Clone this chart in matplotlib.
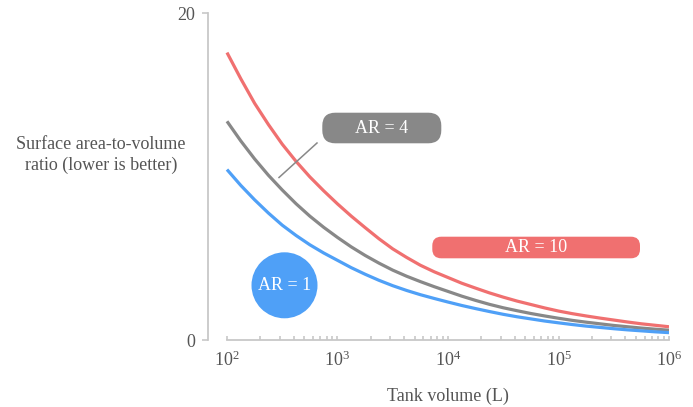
import matplotlib
matplotlib.use("Agg")
import matplotlib.pyplot as plt
from matplotlib.patches import FancyBboxPatch, Circle
from matplotlib.lines import Line2D
from matplotlib.transforms import Affine2D
from matplotlib.ticker import FixedLocator, LogFormatterMathtext, NullFormatter

# Tank volume (L), eighth-decade steps from 1e2 to 1e6
volume_exp = [2 + i / 8 for i in range(33)]
volume = [10 ** e for e in volume_exp]

# Surface area-to-volume ratio for each aspect ratio
sav_ar10 = [17.6, 16.0, 14.5, 13.2, 12.0, 10.95, 10.0, 9.15, 8.35, 7.6, 6.9,
            6.22, 5.6, 5.08, 4.6, 4.2, 3.85, 3.5, 3.2, 2.91, 2.65, 2.41, 2.2,
            1.99, 1.8, 1.64, 1.5, 1.37, 1.25, 1.13, 1.02, 0.93, 0.84]
sav_ar4 = [13.4, 12.2, 11.1, 10.1, 9.2, 8.36, 7.6, 6.92, 6.3, 5.72, 5.2,
           4.73, 4.3, 3.93, 3.6, 3.29, 3.0, 2.71, 2.45, 2.21, 2.0, 1.82, 1.65,
           1.5, 1.36, 1.23, 1.12, 1.02, 0.92, 0.84, 0.76, 0.69, 0.63]
sav_ar1 = [10.45, 9.48, 8.6, 7.79, 7.05, 6.42, 5.85, 5.35, 4.9, 4.45, 4.05,
           3.68, 3.35, 3.06, 2.8, 2.57, 2.35, 2.14, 1.95, 1.77, 1.6, 1.45, 1.32,
           1.19, 1.08, 0.975, 0.88, 0.8, 0.72, 0.65, 0.59, 0.53, 0.48]

series_labels = ["AR = 1", "AR = 4", "AR = 10"]
x_major = [1e2, 1e3, 1e4, 1e5, 1e6]
y_ticks = [0, 20]

RED = "#f07070"
GRAY = "#888888"
BLUE = "#4fa0f7"
AXIS = "#c8c8c8"
TEXT = "#555555"
FS = 13

plt.rcParams["font.family"] = ["Liberation Serif", "DejaVu Serif"]
plt.rcParams["mathtext.fontset"] = "custom"
plt.rcParams["mathtext.rm"] = "Liberation Serif"
plt.rcParams["mathtext.it"] = "Liberation Serif:italic"

W, H, DPI = 6.93, 4.07, 100
fig = plt.figure(figsize=(W, H), dpi=DPI)
ax = fig.add_axes([0.3001, 0.1634, 0.6653, 0.8039])

# pixel coordinates measured from the top-left corner of the figure
px = Affine2D().scale(1 / DPI).scale(1, -1).translate(0, H) + fig.dpi_scale_trans

ax.plot(volume, sav_ar10, color=RED, lw=2.3, solid_capstyle="butt", zorder=3)
ax.plot(volume, sav_ar4, color=GRAY, lw=2.3, solid_capstyle="butt", zorder=3)
ax.plot(volume, sav_ar1, color=BLUE, lw=2.3, solid_capstyle="butt", zorder=3)

ax.set_xscale("log")
ax.set_xlim(10 ** 1.828, 1e6)
ax.set_ylim(0, 20)

for s in ["top", "right"]:
    ax.spines[s].set_visible(False)
for s in ["left", "bottom"]:
    ax.spines[s].set_color(AXIS)
    ax.spines[s].set_linewidth(1.3)
ax.spines["bottom"].set_bounds(1e2, 1e6)

x_minor = [m * d for d in x_major[:-1] for m in range(2, 10)]
ax.xaxis.set_major_locator(FixedLocator(x_major))
ax.xaxis.set_minor_locator(FixedLocator(x_minor))
ax.xaxis.set_major_formatter(LogFormatterMathtext())
ax.xaxis.set_minor_formatter(NullFormatter())
ax.tick_params(axis="x", which="both", direction="in", length=3, width=1.2,
               color=AXIS, labelcolor=TEXT, labelsize=FS, pad=7)
ax.set_yticks(y_ticks)
ax.tick_params(axis="y", direction="out", length=4.3, width=1.2,
               color=AXIS, labelcolor=TEXT, labelsize=FS, pad=5)

# x label centred under the drawn part of the bottom axis
ax.set_xlabel("Tank volume (L)", fontsize=FS, color=TEXT)
ax.xaxis.set_label_coords(0.5206, -0.145)
fig.text(101, 155, "Surface area-to-volume\nratio (lower is better)",
         transform=px, ha="center", va="center", multialignment="center",
         fontsize=FS, color=TEXT, linespacing=1.3)

# AR = 4 label with leader line
fig.patches.append(FancyBboxPatch((322.3, 112.7), 119, 30.6,
                                  boxstyle="round,pad=0,rounding_size=13",
                                  transform=px, facecolor=GRAY, edgecolor="none",
                                  figure=fig))
fig.text(381.8, 128.5, series_labels[1], transform=px, ha="center", va="center",
         color="white", fontsize=FS)
fig.lines.append(Line2D([317, 279], [143, 177.5], transform=px, color=GRAY,
                        lw=1.1, figure=fig))

# AR = 10 label
fig.patches.append(FancyBboxPatch((432.3, 236.7), 207.7, 21.6,
                                  boxstyle="round,pad=0,rounding_size=9",
                                  transform=px, facecolor=RED, edgecolor="none",
                                  figure=fig))
fig.text(536, 248, series_labels[2], transform=px, ha="center", va="center",
         color="white", fontsize=FS)

# AR = 1 label
fig.patches.append(Circle((284.5, 285.3), 33, transform=px, facecolor=BLUE,
                          edgecolor="none", figure=fig))
fig.text(284.5, 285.5, series_labels[0], transform=px, ha="center", va="center",
         color="white", fontsize=FS)

fig.savefig("out.png", dpi=DPI)
